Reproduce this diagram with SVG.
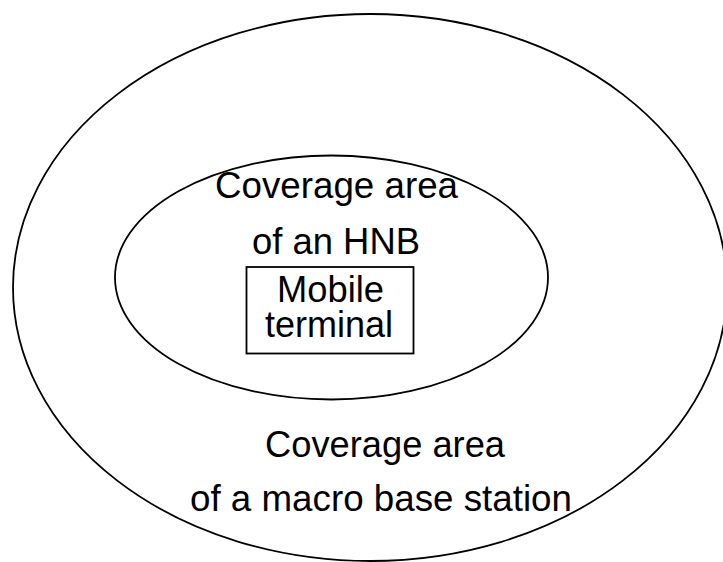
<svg xmlns="http://www.w3.org/2000/svg" width="723" height="562" viewBox="0 0 723 562">
<style>
.shape{fill:none;stroke:#000;stroke-width:1.8}
.lbl{font-family:"Liberation Sans",Arial,sans-serif;font-size:36px;fill:#000}
</style>
<rect width="723" height="562" fill="#fff"/>
<g id="macro">
<ellipse class="shape" cx="370" cy="287.5" rx="357" ry="273.5"/>
<text class="lbl" x="265" y="457" textLength="240" lengthAdjust="spacingAndGlyphs">Coverage area</text>
<text class="lbl" x="190" y="511" textLength="382" lengthAdjust="spacingAndGlyphs">of a macro base station</text>
</g>
<g id="hnb">
<ellipse class="shape" cx="331.5" cy="277.5" rx="216.5" ry="122"/>
<text class="lbl" x="215" y="198" textLength="243" lengthAdjust="spacingAndGlyphs">Coverage area</text>
<text class="lbl" x="252" y="254" textLength="168" lengthAdjust="spacingAndGlyphs">of an HNB</text>
</g>
<g id="terminal">
<rect class="shape" x="246.5" y="267" width="167" height="86.5"/>
<text class="lbl" x="277" y="302" textLength="107" lengthAdjust="spacingAndGlyphs">Mobile</text>
<text class="lbl" x="265" y="337" textLength="128" lengthAdjust="spacingAndGlyphs">terminal</text>
</g>
<g id="connectors"></g>
</svg>
